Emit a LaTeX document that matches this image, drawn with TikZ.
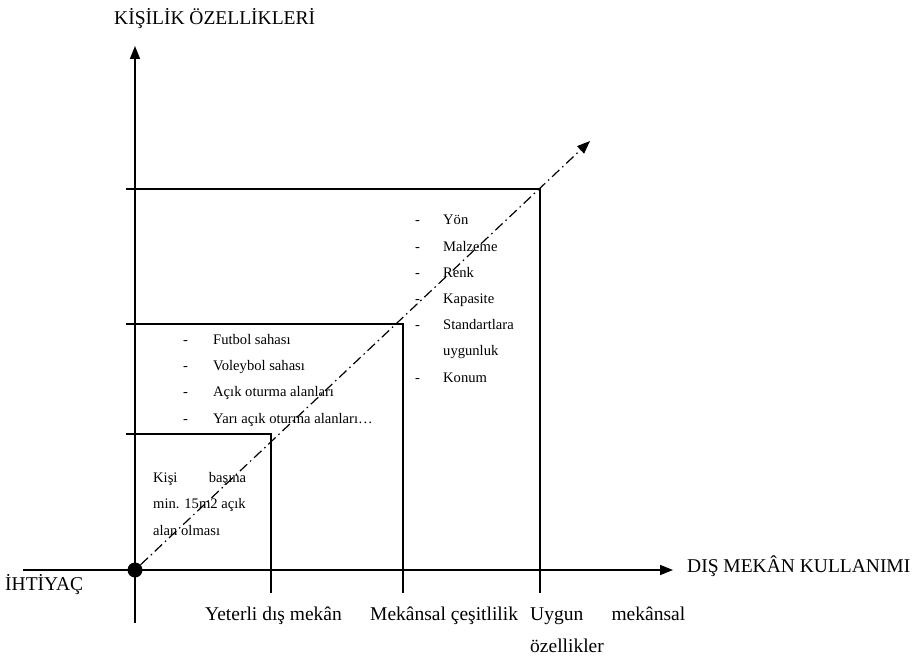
\documentclass[tikz,border=0pt]{standalone}
\usepackage{fontspec}
\setmainfont{Liberation Serif}
\usetikzlibrary{arrows.meta}

\tikzset{
  axis/.style={line width=1.6pt, -{Triangle[length=13pt,width=10pt]}},
  gridline/.style={line width=1.2pt},
  trend/.style={line width=1.2pt, dash pattern=on 10pt off 4pt on 1.5pt off 4pt,
    -{Triangle[length=13pt,width=10pt]}},
  biglabel/.style={inner sep=0pt, font=\fontsize{19.5}{32}\selectfont},
  smalllabel/.style={inner sep=0pt, align=left, font=\fontsize{14.6}{26.2}\selectfont},
}

\begin{document}
\begin{tikzpicture}[x=1pt, y=-1pt]
  \useasboundingbox (0,0) rectangle (913,663);
  %% axes, crossing at the need point
  \coordinate (ytop) at (135,46);
  \coordinate (ybot) at (135,623);
  \coordinate (xleft) at (23,570);
  \coordinate (xright) at (673,570);
  \draw[line width=1.6pt] (ybot) -- (135,570);
  \draw[axis] (135,570) -- (ytop);
  \draw[axis] (xleft) -- (xright);
  \node[circle, fill, inner sep=0pt, minimum size=15pt] (need) at (135,570) {};
  %% the three steps: a line from the y axis to the corner and down
  \foreach \n/\x/\y in {1/271/434, 2/403/324, 3/540/189} {
    \coordinate (l\n) at (126,\y);
    \coordinate (c\n) at (\x,\y);
    \coordinate (b\n) at (\x,593);
    \draw[gridline] (l\n) -- (c\n) -- (b\n);
  }
  %% rising dash-dot trend through the corners
  \coordinate (tip) at (590,141);
  \draw[trend] (need) -- (tip);
  %% axis labels (base = last line)
  \node[biglabel, anchor=base west] (ylab) at (114,25) {KİŞİLİK ÖZELLİKLERİ};
  \node[biglabel, anchor=base west] (xlab) at (687,572) {DIŞ MEKÂN KULLANIMI};
  \node[biglabel, anchor=base west] (need lab) at (5,590) {İHTİYAÇ};
  \node[biglabel, anchor=base west] (step1 lab) at (205,620) {Yeterli dış mekân};
  \node[biglabel, anchor=base west] (step2 lab) at (370,620) {Mekânsal çeşitlilik};
  \node[biglabel, anchor=base west, align=left] (step3 lab) at (530,652)
    {\makebox[155pt][s]{Uygun mekânsal}\\özellikler};
  %% contents of the boxes
  \node[smalllabel, anchor=base west] (box1) at (153,535)
    {\makebox[93pt][s]{Kişi başına}\\min. 15m2 açık\\alan olması};
  \node[smalllabel, anchor=base west] (box2) at (183,423)
    {\makebox[30pt][l]{-}Futbol sahası\\
     \makebox[30pt][l]{-}Voleybol sahası\\
     \makebox[30pt][l]{-}Açık oturma alanları\\
     \makebox[30pt][l]{-}Yarı açık oturma alanları…};
  \node[smalllabel, anchor=base west] (box3) at (415,382)
    {\makebox[28pt][l]{-}Yön\\
     \makebox[28pt][l]{-}Malzeme\\
     \makebox[28pt][l]{-}Renk\\
     \makebox[28pt][l]{-}Kapasite\\
     \makebox[28pt][l]{-}Standartlara\\
     \makebox[28pt][l]{}uygunluk\\
     \makebox[28pt][l]{-}Konum};
\end{tikzpicture}
\end{document}
